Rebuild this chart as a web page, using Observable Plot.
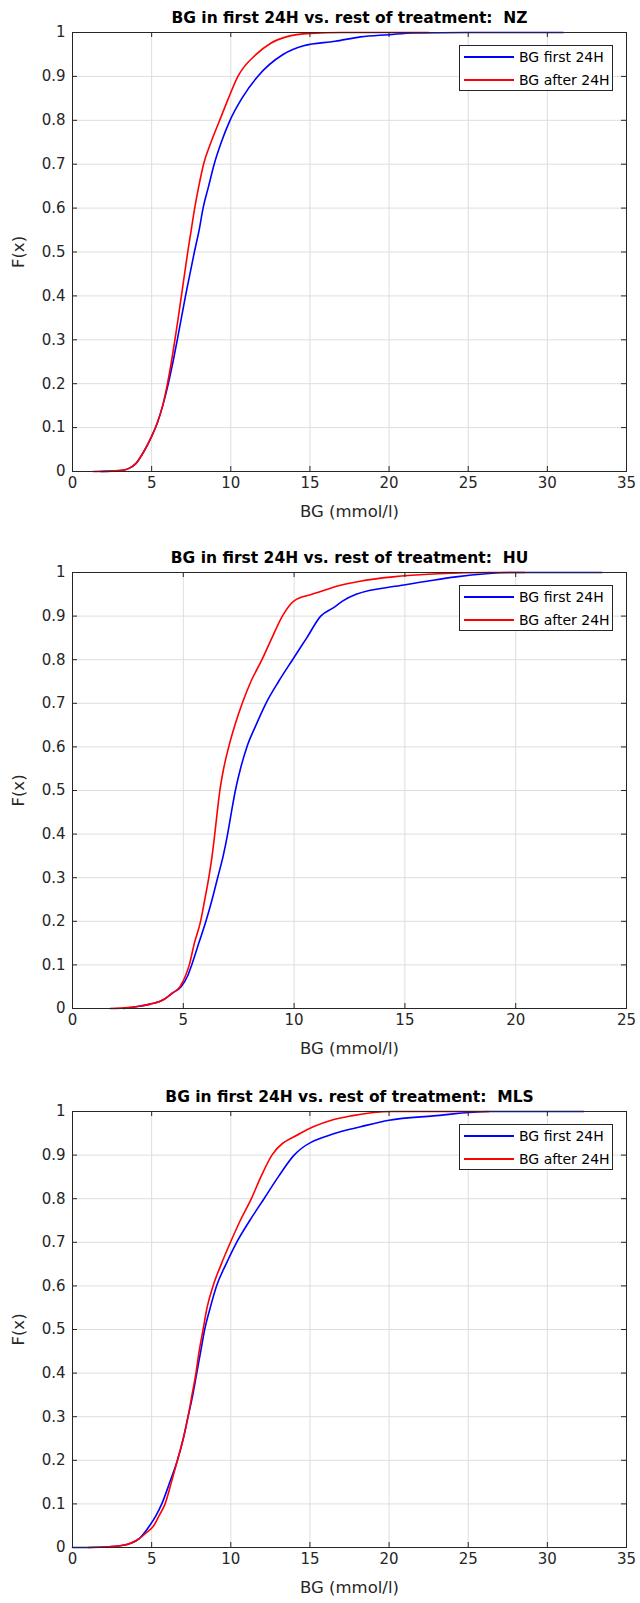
<!DOCTYPE html>
<html>
<head>
<meta charset="utf-8">
<script src="https://cdn.jsdelivr.net/npm/d3@7"></script>
<script src="https://cdn.jsdelivr.net/npm/@observablehq/plot@0.6"></script>
<style>
  body { margin: 0; background: #fff; }
  #root { position: relative; width: 640px; height: 1603px; font-family: "DejaVu Sans", sans-serif; }
  .panel { position: absolute; left: 0; }
  .legend { position: absolute; background: #fff; border: 1px solid #262626; box-sizing: border-box; font-size: 14px; color: #000; }
  .legend .row { position: absolute; left: 0; height: 20px; }
  .legend .sw { position: absolute; left: 4px; width: 50px; height: 2px; }
  .legend .lb { position: absolute; left: 59px; white-space: nowrap; line-height: 20px; }
</style>
</head>
<body>
<div id="root"></div>
<script>
// ---------- data ----------
const seriesNames = ["BG first 24H", "BG after 24H"];
const seriesColors = ["#0000ff", "#ff0000"];
const panelTitles = [
  "BG in first 24H vs. rest of treatment:  NZ",
  "BG in first 24H vs. rest of treatment:  HU",
  "BG in first 24H vs. rest of treatment:  MLS"
];
const xTicksA = [0, 5, 10, 15, 20, 25, 30, 35];
const xTicksB = [0, 5, 10, 15, 20, 25];
const yTicks = [0, 0.1, 0.2, 0.3, 0.4, 0.5, 0.6, 0.7, 0.8, 0.9, 1];

// NZ
const nzFirstBG = [1.8, 3.0, 3.5, 4.0, 4.5, 5.0, 5.35, 5.7, 6.05, 6.35, 6.62, 6.88, 7.14, 7.42, 7.7, 8.0, 8.25, 8.6, 8.95, 9.4, 9.95, 10.7, 11.7, 13.3, 14.6, 16.6, 18.2, 20.0, 21.5, 25.0, 31.0];
const nzFirstF  = [0, 0.002, 0.006, 0.018, 0.045, 0.08, 0.11, 0.15, 0.2, 0.25, 0.3, 0.35, 0.4, 0.45, 0.5, 0.55, 0.6, 0.65, 0.7, 0.75, 0.8, 0.85, 0.9, 0.95, 0.97, 0.98, 0.99, 0.995, 0.999, 1, 1];
const nzAfterBG = [1.3, 3.0, 3.5, 4.0, 4.5, 5.0, 5.35, 5.7, 6.0, 6.25, 6.47, 6.68, 6.88, 7.08, 7.28, 7.5, 7.72, 7.98, 8.28, 8.75, 9.3, 9.85, 10.45, 11.6, 12.5, 13.5, 15.0, 17.0, 22.5];
const nzAfterF  = [0, 0.002, 0.006, 0.018, 0.045, 0.08, 0.11, 0.15, 0.2, 0.25, 0.3, 0.35, 0.4, 0.45, 0.5, 0.55, 0.6, 0.65, 0.7, 0.75, 0.8, 0.85, 0.9, 0.95, 0.975, 0.99, 0.998, 1, 1];

// HU
const huFirstBG = [2.3, 3.0, 3.5, 4.1, 4.5, 4.9, 5.2, 5.38, 5.7, 6.02, 6.3, 6.55, 6.8, 7.0, 7.17, 7.35, 7.58, 7.87, 8.28, 8.73, 9.3, 9.93, 10.57, 11.2, 11.8, 12.2, 12.8, 14.8, 16.0, 17.3, 19.8, 23.9];
const huFirstF  = [0, 0.005, 0.01, 0.02, 0.035, 0.05, 0.075, 0.1, 0.15, 0.2, 0.25, 0.3, 0.35, 0.4, 0.45, 0.5, 0.55, 0.6, 0.65, 0.7, 0.75, 0.8, 0.85, 0.9, 0.92, 0.935, 0.95, 0.97, 0.98, 0.99, 1, 1];
const huAfterBG = [1.7, 2.5, 3.0, 3.5, 4.1, 4.5, 4.85, 5.1, 5.27, 5.5, 5.78, 5.97, 6.15, 6.3, 6.42, 6.53, 6.65, 6.82, 7.05, 7.33, 7.66, 8.05, 8.55, 9.0, 9.47, 10.0, 10.8, 11.3, 12.05, 12.97, 14.45, 16.5, 18.9, 20.4];
const huAfterF  = [0, 0.002, 0.005, 0.01, 0.02, 0.035, 0.05, 0.075, 0.1, 0.15, 0.2, 0.25, 0.3, 0.35, 0.4, 0.45, 0.5, 0.55, 0.6, 0.65, 0.7, 0.75, 0.8, 0.85, 0.9, 0.935, 0.95, 0.958, 0.97, 0.98, 0.99, 0.997, 1, 1];

// MLS
const mlsFirstBG = [0, 1.0, 2.0, 3.2, 4.2, 4.87, 5.3, 5.64, 6.15, 6.63, 7.0, 7.3, 7.6, 7.85, 8.1, 8.35, 8.7, 9.1, 9.7, 10.37, 11.2, 12.1, 13.0, 14.0, 16.6, 18.2, 20.0, 22.8, 26.4, 32.3];
const mlsFirstF  = [0, 0, 0.001, 0.005, 0.02, 0.05, 0.075, 0.1, 0.15, 0.2, 0.25, 0.3, 0.35, 0.4, 0.45, 0.5, 0.55, 0.6, 0.65, 0.7, 0.75, 0.8, 0.85, 0.9, 0.95, 0.965, 0.98, 0.99, 1, 1];
const mlsAfterBG = [1.0, 2.0, 3.2, 4.2, 4.7, 5.13, 5.5, 5.85, 6.25, 6.63, 7.0, 7.3, 7.55, 7.8, 8.0, 8.25, 8.5, 8.88, 9.4, 9.98, 10.6, 11.3, 11.9, 12.6, 14.4, 16.35, 17.6, 20.2, 26.3];
const mlsAfterF  = [0, 0.001, 0.005, 0.02, 0.035, 0.05, 0.075, 0.1, 0.15, 0.2, 0.25, 0.3, 0.35, 0.4, 0.45, 0.5, 0.55, 0.6, 0.65, 0.7, 0.75, 0.8, 0.85, 0.9, 0.95, 0.98, 0.99, 1, 1];

// ---------- drawing ----------
const zip = (xs, ys, s) => xs.map((x, i) => ({x, F: ys[i], s}));
const panels = [
  {title: panelTitles[0], xmax: 35, xticks: xTicksA, top: 0, mt: 32, ph: 439, mb: 69,
   first: zip(nzFirstBG, nzFirstF, seriesNames[0]), after: zip(nzAfterBG, nzAfterF, seriesNames[1])},
  {title: panelTitles[1], xmax: 25, xticks: xTicksB, top: 540, mt: 32, ph: 436, mb: 71,
   first: zip(huFirstBG, huFirstF, seriesNames[0]), after: zip(huAfterBG, huAfterF, seriesNames[1])},
  {title: panelTitles[2], xmax: 35, xticks: xTicksA, top: 1079, mt: 32, ph: 436, mb: 56,
   first: zip(mlsFirstBG, mlsFirstF, seriesNames[0]), after: zip(mlsAfterBG, mlsAfterF, seriesNames[1])}
];

const root = document.getElementById("root");
const axisColor = "#262626";
const ML = 72, MR = 14, W = 640;
const FONT = "'DejaVu Sans', sans-serif";

for (const p of panels) {
  const H = p.mt + p.ph + p.mb;
  const pw = W - ML - MR;
  const chart = Plot.plot({
    width: W,
    height: H,
    marginLeft: ML,
    marginRight: MR,
    marginTop: p.mt,
    marginBottom: p.mb,
    style: {fontFamily: FONT, background: "transparent", overflow: "visible"},
    x: {domain: [0, p.xmax], ticks: p.xticks},
    y: {domain: [0, 1], ticks: yTicks},
    color: {domain: seriesNames, range: seriesColors},
    marks: [
      Plot.gridX(p.xticks, {stroke: "#dedede", strokeOpacity: 1, strokeWidth: 1}),
      Plot.gridY(yTicks, {stroke: "#dedede", strokeOpacity: 1, strokeWidth: 1}),
      Plot.line(p.first, {x: "x", y: "F", stroke: "s", strokeWidth: 1.6, curve: "monotone-x"}),
      Plot.line(p.after, {x: "x", y: "F", stroke: "s", strokeWidth: 1.6, curve: "monotone-x"}),
      // inward ticks (bottom, top, left, right)
      Plot.tickX(p.xticks, {x: d => d, stroke: axisColor, insetTop: p.ph - 5}),
      Plot.tickX(p.xticks, {x: d => d, stroke: axisColor, insetBottom: p.ph - 5}),
      Plot.tickY(yTicks, {y: d => d, stroke: axisColor, insetRight: pw - 5}),
      Plot.tickY(yTicks, {y: d => d, stroke: axisColor, insetLeft: pw - 5}),
      Plot.frame({stroke: axisColor, strokeWidth: 1}),
      Plot.axisX(p.xticks, {tickSize: 0, tickPadding: 6, fontSize: 15, fill: axisColor, label: null}),
      Plot.axisY(yTicks, {tickSize: 0, tickPadding: 7, fontSize: 15, fill: axisColor, label: null, tickFormat: d => String(d)}),
      Plot.text([p.title], {frameAnchor: "top", lineAnchor: "middle", textAnchor: "middle", dy: -14, fontSize: 15.5, fontWeight: "bold", fill: "#000"}),
      Plot.text(["BG (mmol/l)"], {frameAnchor: "bottom", lineAnchor: "middle", textAnchor: "middle", dy: 40, fontSize: 16.5, fill: axisColor}),
      Plot.text(["F(x)"], {frameAnchor: "left", lineAnchor: "middle", textAnchor: "middle", dx: -54, rotate: -90, fontSize: 16.5, fill: axisColor})
    ]
  });
  const wrap = document.createElement("div");
  wrap.className = "panel";
  wrap.style.top = p.top + "px";
  wrap.appendChild(chart);
  root.appendChild(wrap);

  // legend box
  const lg = document.createElement("div");
  lg.className = "legend";
  lg.style.left = "459px";
  lg.style.top = (p.top + p.mt + 13) + "px";
  lg.style.width = "154px";
  lg.style.height = "46px";
  seriesNames.forEach((name, i) => {
    const row = document.createElement("div");
    row.className = "row";
    row.style.top = (1 + i * 23) + "px";
    const sw = document.createElement("div");
    sw.className = "sw";
    sw.style.top = "9px";
    sw.style.background = seriesColors[i];
    const lb = document.createElement("div");
    lb.className = "lb";
    lb.textContent = name;
    row.appendChild(sw);
    row.appendChild(lb);
    lg.appendChild(row);
  });
  root.appendChild(lg);
}
</script>
</body>
</html>
